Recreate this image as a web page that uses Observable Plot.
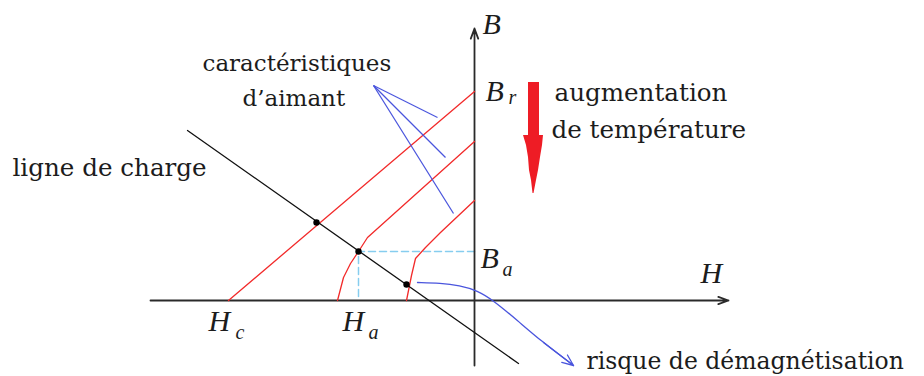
<!DOCTYPE html>
<html><head><meta charset="utf-8">
<script src="https://cdn.jsdelivr.net/npm/d3@7"></script>
<script src="https://cdn.jsdelivr.net/npm/@observablehq/plot@0.6"></script>
<style>html,body{margin:0;padding:0;background:#fff;overflow:hidden;} #chart{width:924px;height:376px;}</style>
</head><body><div id="chart"></div>
<script>
// Diagram coordinates: H (field) horizontal, B (induction) vertical
const hAxis = [{x1: -32.4, x2: 25.4, y: 0}];
const bAxis = [{x: 0, y1: -6.5, y2: 27.2}];

// Magnet characteristics B(H), one per temperature
const curves = [
  {id: 1, h: -24.6, b: 0}, {id: 1, h: 0, b: 20.9},
  {id: 2, h: -13.7, b: 0}, {id: 2, h: -13.1, b: 2.3}, {id: 2, h: -12.4, b: 3.7},
  {id: 2, h: -11.6, b: 4.9}, {id: 2, h: -10.7, b: 6.3}, {id: 2, h: 0, b: 15.9},
  {id: 3, h: -6.8, b: 0}, {id: 3, h: -6.6, b: 1.0}, {id: 3, h: -6.3, b: 2.5},
  {id: 3, h: -5.9, b: 4.2}, {id: 3, h: -4.9, b: 5.3}, {id: 3, h: -3.4, b: 6.8},
  {id: 3, h: 0, b: 10.0}
];

// Load line and operating points
const loadLine = [{h: -28.7, b: 17.0}, {h: 4.4, b: -6.3}];
const operatingPoints = [{h: -15.8, b: 7.8}, {h: -11.6, b: 4.9}, {h: -6.8, b: 1.6}];
const projection = [{h: 0, b: 4.9}, {h: -11.6, b: 4.9}, {h: -11.6, b: 0}];

// Pointers from "caractéristiques d'aimant"
const pointerOrigin = {h: -10.1, b: 21.5};
const pointerEnds = [{h: -3.7, b: 18.3}, {h: -2.9, b: 14.3}, {h: -2.1, b: 8.7}];

// Curved pointer to "risque de démagnétisation"
const riskPath = [
  {h: -5.7, b: 1.8}, {h: -3.4, b: 1.75}, {h: -1.5, b: 1.5}, {h: 0.3, b: 1.0},
  {h: 1.9, b: 0.0}, {h: 4.3, b: -2.0}, {h: 6.6, b: -4.0}, {h: 9.9, b: -6.5}
];
const riskHead = [{h1: 6.9, b1: -4.2, h2: 9.9, b2: -6.5}];

// Temperature arrow outline (x1/x2 at each b)
const tempArrow = [
  {b: 21.8, x1: 5.4, x2: 6.5}, {b: 16.5, x1: 5.4, x2: 6.5},
  {b: 16.5, x1: 4.9, x2: 6.9}, {b: 15.5, x1: 5.2, x2: 6.8},
  {b: 14.3, x1: 5.4, x2: 6.6}, {b: 13.0, x1: 5.5, x2: 6.4},
  {b: 12.0, x1: 5.7, x2: 6.2}, {b: 10.7, x1: 5.85, x2: 5.95}
];

// Labels
const mathLabels = [
  {t: "B", h: 0.8, b: 26.7}, {t: "H", h: 22.6, b: 1.8},
  {t: "B", h: 1.1, b: 20.0}, {t: "B", h: 0.6, b: 3.3},
  {t: "H", h: -26.6, b: -3.0}, {t: "H", h: -13.2, b: -3.0}
];
const subLabels = [
  {t: "r", h: 3.4, b: 19.7}, {t: "a", h: 2.8, b: 2.5},
  {t: "c", h: -23.9, b: -3.8}, {t: "a", h: -10.6, b: -3.8}
];
const textLabels = [
  {t: "caractéristiques", h: -27.2, b: 23.0},
  {t: "d’aimant", h: -23.2, b: 19.5}
];
const sideLabels = [
  {t: "augmentation", h: 8.0, b: 20.0},
  {t: "de température", h: 7.7, b: 16.3},
  {t: "ligne de charge", h: -46.2, b: 12.5}
];
const riskLabel = [{t: "risque de démagnétisation", h: 11.2, b: -6.85}];

const serif = "'DejaVu Serif', serif";
const mathFont = "'Liberation Serif', serif";
const blue = "#4a55dd";

const chart = Plot.plot({
  width: 924, height: 376, margin: 0,
  x: {domain: [-47.4, 45], axis: null},
  y: {domain: [-7.6, 30], axis: null},
  style: {background: "#fff", overflow: "visible"},
  marks: [
    Plot.line(projection, {x: "h", y: "b", stroke: "#86cdef", strokeWidth: 1.5, strokeDasharray: "7,4"}),
    Plot.arrow(hAxis, {x1: "x1", x2: "x2", y1: "y", y2: "y", stroke: "#2a2a2a", strokeWidth: 1.8, headLength: 9, headAngle: 40}),
    Plot.arrow(bAxis, {x1: "x", x2: "x", y1: "y1", y2: "y2", stroke: "#2a2a2a", strokeWidth: 1.8, headLength: 9, headAngle: 40}),
    Plot.line(curves, {x: "h", y: "b", z: "id", stroke: "#f22a2a", strokeWidth: 1.3}),
    Plot.line(loadLine, {x: "h", y: "b", stroke: "#111", strokeWidth: 1.3}),
    Plot.dot(operatingPoints, {x: "h", y: "b", r: 3.2, fill: "#000"}),
    Plot.link(pointerEnds, {x1: pointerOrigin.h, y1: pointerOrigin.b, x2: "h", y2: "b", stroke: blue, strokeWidth: 1.2}),
    Plot.line(riskPath, {x: "h", y: "b", stroke: blue, strokeWidth: 1.3, curve: "basis"}),
    Plot.arrow(riskHead, {x1: "h1", y1: "b1", x2: "h2", y2: "b2", stroke: blue, strokeWidth: 1.3, headLength: 14, headAngle: 45}),
    Plot.areaX(tempArrow, {y: "b", x1: "x1", x2: "x2", fill: "#ee1c25", curve: "linear"}),
    Plot.text(mathLabels, {x: "h", y: "b", text: "t", textAnchor: "start", lineAnchor: "bottom", fontSize: 30, fontStyle: "italic", fontFamily: mathFont, fill: "#1c1c1c"}),
    Plot.text(subLabels, {x: "h", y: "b", text: "t", textAnchor: "start", lineAnchor: "bottom", fontSize: 20, fontStyle: "italic", fontFamily: mathFont, fill: "#1c1c1c"}),
    Plot.text(textLabels, {x: "h", y: "b", text: "t", textAnchor: "start", lineAnchor: "bottom", fontSize: 23, fontFamily: serif, fill: "#1c1c1c"}),
    Plot.text(sideLabels, {x: "h", y: "b", text: "t", textAnchor: "start", lineAnchor: "bottom", fontSize: 24.6, fontFamily: serif, fill: "#1c1c1c"}),
    Plot.text(riskLabel, {x: "h", y: "b", text: "t", textAnchor: "start", lineAnchor: "bottom", fontSize: 23.5, fontFamily: serif, fill: "#1c1c1c"})
  ]
});
document.getElementById("chart").appendChild(chart);
</script></body></html>
